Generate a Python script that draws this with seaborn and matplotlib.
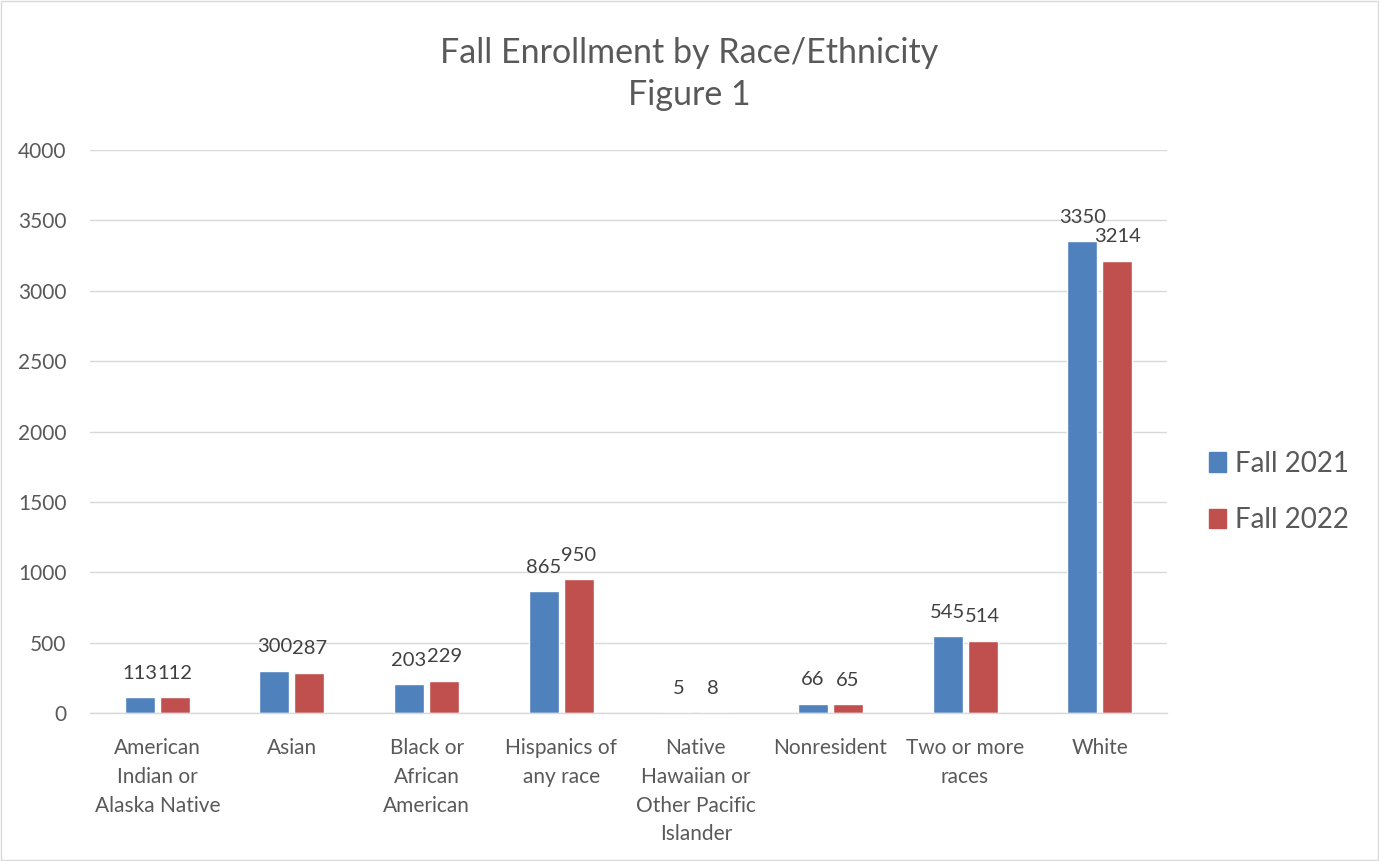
import matplotlib
matplotlib.use("Agg")
import matplotlib.pyplot as plt
import seaborn as sns
import pandas as pd
from matplotlib.patches import Rectangle, Patch

categories = ["American\nIndian or\nAlaska Native", "Asian", "Black or\nAfrican\nAmerican",
              "Hispanics of\nany race", "Native\nHawaiian or\nOther Pacific\nIslander",
              "Nonresident", "Two or more\nraces", "White"]
fall_2021 = [113, 300, 203, 865, 5, 66, 545, 3350]
fall_2022 = [112, 287, 229, 950, 8, 65, 514, 3214]
series = ["Fall 2021", "Fall 2022"]
colors = ["#4F81BD", "#C0504D"]

df = pd.DataFrame({
    "category": categories * 2,
    "value": fall_2021 + fall_2022,
    "series": [series[0]] * len(categories) + [series[1]] * len(categories),
})

sns.set_theme(style="white")
plt.rcParams['font.family'] = ['Lato', 'DejaVu Sans']
text_color = "#595959"

fig = plt.figure(figsize=(13.79, 8.61), dpi=100)
ax = fig.add_axes([90/1379, 1-713/861, (1167-90)/1379, (713-150)/861])

sns.barplot(data=df, x="category", y="value", hue="series", palette=colors,
            width=0.52, gap=0.14, ax=ax, legend=False, saturation=1, errorbar=None)

for cont in ax.containers:
    ax.bar_label(cont, padding=11, fontsize=14.5, color="#404040")

ax.set_ylim(0, 4000)
ax.set_xlim(-0.5, 7.5)
ax.set_yticks(range(0, 4001, 500))
ax.yaxis.grid(True, color="#D9D9D9", linewidth=1)
ax.set_axisbelow(True)
for s in ["left", "right", "top"]:
    ax.spines[s].set_visible(False)
ax.spines["bottom"].set_color("#D9D9D9")
ax.spines["bottom"].set_linewidth(1)
ax.tick_params(axis="both", length=0, labelsize=15, colors=text_color)
ax.tick_params(axis="y", pad=17)
ax.tick_params(axis="x", pad=18)
for lbl in ax.get_xticklabels():
    lbl.set_linespacing(1.55)
ax.set_xlabel("")
ax.set_ylabel("")

fig.text(0.5, 1-74/861, "Fall Enrollment by Race/Ethnicity\nFigure 1", ha="center", va="center",
         fontsize=24.5, color=text_color, linespacing=1.4)

handles = [Patch(facecolor=c, edgecolor=c) for c in colors]
fig.legend(handles, series, loc="center left", bbox_to_anchor=(1184/1379, 1-492/861),
           frameon=False, fontsize=20, labelcolor=text_color, handlelength=0.6,
           handleheight=0.7, handletextpad=0.35, labelspacing=1.1)

fig.patches.append(Rectangle((0.001, 0.001), 0.998, 0.998, transform=fig.transFigure,
                             fill=False, edgecolor="#D9D9D9", linewidth=1))

fig.savefig("out.png", dpi=100, facecolor="white")
